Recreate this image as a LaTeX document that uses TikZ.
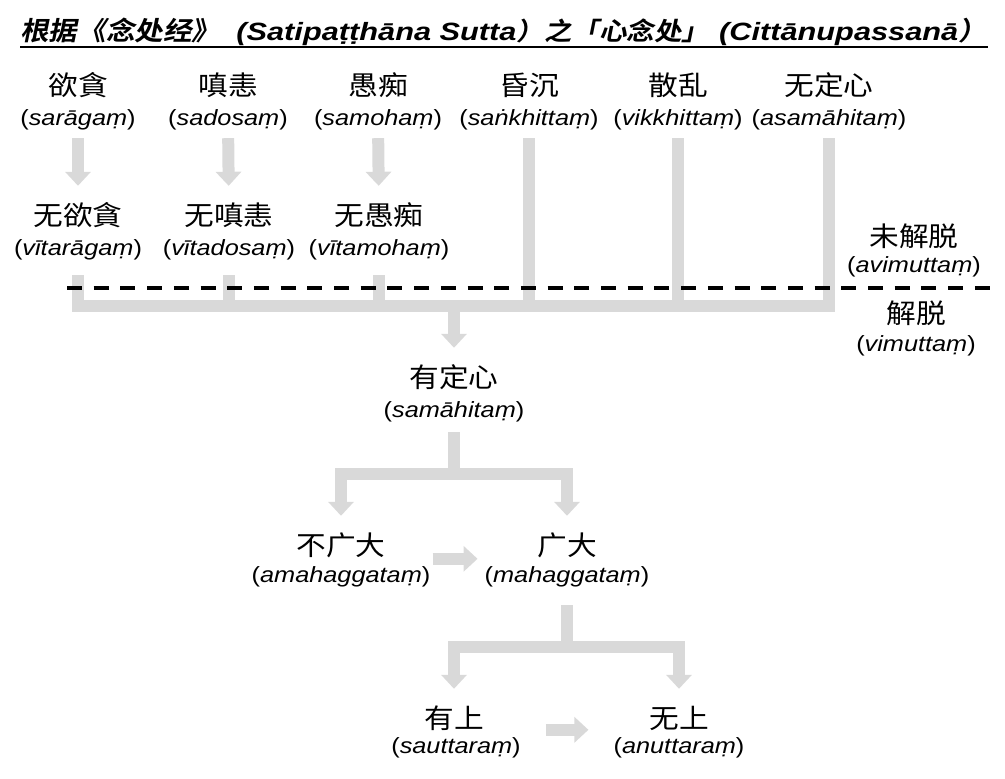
\documentclass[tikz,border=0pt]{standalone}
\usepackage{fontspec}
\setmainfont{Liberation Sans}[FakeStretch=1.15]
\newfontfamily\zhfont{Noto Sans CJK SC}[FakeStretch=1.1]
\newfontfamily\zhbold{Noto Sans CJK SC Bold}[FakeSlant=0.2,FakeStretch=1.1]
\newfontfamily\titlefont{Liberation Sans Bold Italic}[FakeStretch=1.23]
\usetikzlibrary{arrows.meta}
\usetikzlibrary{positioning}
\definecolor{bargray}{HTML}{D9D9D9}
\newcommand{\pali}[1]{(\textit{#1})}
\newcommand{\tzh}[2][26]{{\zhbold\fontsize{#1}{28}\selectfont #2}}
\newcommand{\tla}[1]{{\titlefont\fontsize{25}{28}\selectfont #1}}

\begin{document}
\begin{tikzpicture}[x=1pt,y=-1pt,
    zh/.style={font=\zhfont\fontsize{27}{30}\selectfont, inner sep=0pt, minimum height=58pt},
    pl/.style={font=\fontsize{22}{26}\selectfont, inner sep=0pt, minimum height=36pt},
    bar/.style={draw=bargray, line width=12pt, line join=miter},
    flow/.style={bar, -{Triangle[width=25pt,length=14pt]}},
    cut/.style={line width=4pt, dash pattern=on 15pt off 11.7pt},
  ]
  \useasboundingbox (0,0) rectangle (1005,779);

  % title
  \node[anchor=base west, inner sep=0pt] (title) at (20,41)
    {\tzh{根据《念处经》}\hspace{16pt}\tla{(Satipaṭṭhāna Sutta}\tzh[25]{）之「心念处」}\hspace{10pt}\tla{(Cittānupassanā}\tzh{）}};
  \draw[line width=2pt] (20,47) -- (988,47);

  % top row
  \node[zh] (tan) at (78,85) {欲貪};
  \node[pl] (tan-p) at (78,120) {\pali{sarāgaṃ}};
  \node[zh] (chen) at (228,85) {嗔恚};
  \node[pl] (chen-p) at (228,120) {\pali{sadosaṃ}};
  \node[zh] (chi) at (378,85) {愚痴};
  \node[pl] (chi-p) at (378,120) {\pali{samohaṃ}};
  \node[zh] (hun) at (529,85) {昏沉};
  \node[pl] (hun-p) at (529,120) {\pali{saṅkhittaṃ}};
  \node[zh] (san) at (678,85) {散乱};
  \node[pl] (san-p) at (678,120) {\pali{vikkhittaṃ}};
  \node[zh] (buding) at (829,85) {无定心};
  \node[pl] (buding-p) at (829,120) {\pali{asamāhitaṃ}};

  % second row
  \node[zh] (wutan) at (78,215) {无欲貪};
  \node[pl] (wutan-p) at (78,250) {\pali{vītarāgaṃ}};
  \node[zh] (wuchen) at (229,215) {无嗔恚};
  \node[pl] (wuchen-p) at (229,250) {\pali{vītadosaṃ}};
  \node[zh] (wuchi) at (379,215) {无愚痴};
  \node[pl] (wuchi-p) at (379,250) {\pali{vītamohaṃ}};

  \node[zh] (weijie) at (914,236) {未解脱};
  \node[pl] (weijie-p) at (914,267) {\pali{avimuttaṃ}};
  \node[zh] (jietuo) at (916,313) {解脱};
  \node[pl] (jietuo-p) at (916,346) {\pali{vimuttaṃ}};

  % lower part
  \node[zh] (youding) at (454,377) {有定心};
  \node[pl] (youding-p) at (454,412) {\pali{samāhitaṃ}};
  \node[zh] (buguang) at (341,545) {不广大};
  \node[pl] (buguang-p) at (341,577) {\pali{amahaggataṃ}};
  \node[zh] (guang) at (567,545) {广大};
  \node[pl] (guang-p) at (567,577) {\pali{mahaggataṃ}};
  \node[zh] (youshang) at (454,718) {有上};
  \node[pl] (youshang-p) at (456,748) {\pali{sauttaraṃ}};
  \node[zh] (wushang) at (679,718) {无上};
  \node[pl] (wushang-p) at (679,748) {\pali{anuttaraṃ}};

  \coordinate (hub) at (454,306);
  \coordinate (fork1) at (454,474);
  \coordinate (fork2) at (567,647);

  \draw[flow] (tan-p) -- (wutan);
  \draw[flow] (chen-p) -- (wuchen);
  \draw[flow] (chi-p) -- (wuchi);

  \draw[bar, shorten <=7pt] (wutan-p) |- (hub) -| (buding-p);
  \draw[bar, shorten <=7pt] (wuchen-p) -- (wuchen-p |- hub);
  \draw[bar, shorten <=7pt] (wuchi-p) -- (wuchi-p |- hub);
  \draw[bar] (hun-p) -- (hun-p |- hub);
  \draw[bar] (san-p) -- (san-p |- hub);
  \draw[flow] (hub) -- (youding);

  \draw[cut] (67,288) -- (990,288);

  \draw[bar, shorten <=2pt] (youding-p) -- (fork1);
  \draw[flow] (fork1) -| (buguang);
  \draw[flow] (fork1) -| (guang);
  \draw[flow, shorten <=2pt, shorten >=7pt] (buguang-p.north east) -- (guang-p.north west);

  \draw[bar, shorten <=10pt] (guang-p) -- (fork2);
  \draw[flow] (fork2) -| (youshang);
  \draw[flow] (fork2) -| (wushang);
  \draw[flow, shorten <=25pt, shorten >=25pt] (youshang-p.north east) -- (wushang-p.north west);
\end{tikzpicture}
\end{document}
